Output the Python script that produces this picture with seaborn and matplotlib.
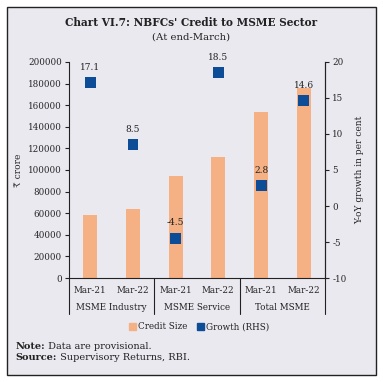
import numpy as np
import pandas as pd
import matplotlib
matplotlib.use('Agg')
import matplotlib.pyplot as plt
import seaborn as sns
from matplotlib.patches import Patch, Rectangle
from matplotlib.transforms import blended_transform_factory

# data
groups = ['MSME Industry', 'MSME Service', 'Total MSME']
periods = ['Mar-21', 'Mar-22']
credit_size = [58000, 64000, 94500, 112000, 154000, 176000]
growth = [17.1, 8.5, -4.5, 18.5, 2.8, 14.6]

bg = '#EAE9F0'
bar_color = '#F5B183'
dot_color = '#0D4C96'

sns.set_theme(style='white')
plt.rcParams['font.family'] = ['DejaVu Serif', 'DejaVu Sans']
plt.rcParams['text.color'] = '#222222'
plt.rcParams['axes.unicode_minus'] = False

df = pd.DataFrame({
    'slot': [f'{g}|{p}' for g in groups for p in periods],
    'credit': credit_size,
    'growth': growth,
})
df['pos'] = np.arange(len(df))

fig = plt.figure(figsize=(3.83, 3.82), dpi=100, facecolor='white')
fig.patches.append(Rectangle((0.018, 0.018), 0.964, 0.964, transform=fig.transFigure,
                             facecolor=bg, edgecolor='#222222', linewidth=1.0, zorder=-5))

ax = fig.add_axes([0.180, 0.272, 0.669, 0.566])
ax.set_facecolor(bg)
sns.barplot(data=df, x='slot', y='credit', color=bar_color, width=0.33,
            saturation=1, linewidth=0, ax=ax, zorder=2)
ax.set_xlim(-0.5, 5.5)
ax.set_ylim(0, 200000)
ax.set_yticks(np.arange(0, 200001, 20000))
ax.set_ylabel('₹ crore', fontsize=6.5, labelpad=4)
ax.set_xlabel('')

ax2 = ax.twinx()
sns.scatterplot(data=df, x='pos', y='growth', marker='s', s=62, color=dot_color,
                edgecolor='none', ax=ax2, zorder=3, legend=False)
ax2.set_ylim(-10, 20)
ax2.set_yticks(np.arange(-10, 21, 5))
ax2.set_ylabel('Y-oY growth in per cent', fontsize=6.5, rotation=90, labelpad=6)
for xp, v in zip(df['pos'], df['growth']):
    ax2.annotate(f'{v}', (xp, v), xytext=(0, 8), textcoords='offset points',
                 ha='center', va='bottom', fontsize=6.5)

for a in (ax, ax2):
    for s in a.spines.values():
        s.set_color('#222222')
        s.set_linewidth(0.8)
    a.spines['top'].set_visible(False)
    a.tick_params(labelsize=6.3, length=3, width=0.8, color='#222222', pad=2)
ax2.spines['left'].set_visible(False)
ax2.spines['bottom'].set_visible(False)

ax.set_xticks(range(6))
ax.set_xticklabels(periods * 3)
ax.tick_params(axis='x', length=0, pad=6)
ax.set_xticks([0.5, 2.5, 4.5], minor=True)
ax.tick_params(axis='x', which='minor', length=3, width=0.8, color='#222222', direction='out')

trans = blended_transform_factory(ax.transData, ax.transAxes)
for xs in [-0.5, 1.5, 3.5, 5.5]:
    ax.plot([xs, xs], [0, -0.165], transform=trans, color='#222222', lw=0.8, clip_on=False)
for i, g in enumerate(groups):
    ax.text(2 * i + 0.5, -0.135, g, transform=trans, ha='center', va='center', fontsize=6.3)

fig.text(0.5, 0.94, "Chart VI.7: NBFCs' Credit to MSME Sector", ha='center', va='center',
         fontsize=7.6, fontweight='bold')
fig.text(0.5, 0.903, '(At end-March)', ha='center', va='center', fontsize=7.3)

handles = [Patch(color=bar_color, label='Credit Size'), Patch(color=dot_color, label='Growth (RHS)')]
fig.legend(handles=handles, loc='center', bbox_to_anchor=(0.52, 0.144), ncol=2, frameon=False,
           fontsize=6.3, handlelength=0.8, handleheight=0.8, handletextpad=0.2, columnspacing=1.2)

# footnotes: bold lead word followed by plain text
for yy, lead, rest in [(0.092, 'Note:', ' Data are provisional.'),
                       (0.063, 'Source:', ' Supervisory Returns, RBI.')]:
    t = fig.text(0.04, yy, lead, fontsize=7.0, fontweight='bold', va='center')
    ax.annotate(rest, xy=(1, 0), xycoords=t, va='bottom', ha='left',
                fontsize=7.0, annotation_clip=False)

fig.savefig('out.png', dpi=100)
